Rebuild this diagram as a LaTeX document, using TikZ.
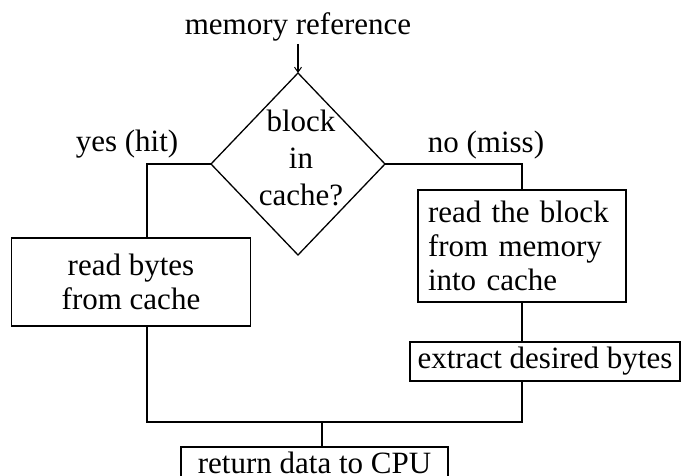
\documentclass[tikz,border=0pt]{standalone}
\usepackage{fontspec}
\setmainfont{Liberation Serif}
\usetikzlibrary{shapes.geometric,arrows.meta}

\begin{document}
\begin{tikzpicture}[x=1pt,y=-1pt,
  line width=1.3pt,
  font=\fontsize{31}{34}\selectfont,
  stepbox/.style={draw, rectangle, inner sep=0pt, outer sep=0pt, align=center},
  decision/.style={draw, diamond, inner sep=0pt, outer sep=0pt},
  label/.style={inner sep=0pt, anchor=base},
  flow/.style={line width=1.3pt}
]
\useasboundingbox (0,0) rectangle (686,476);

% entry point and decision
\node[inner sep=2pt] (mem) at (298,27) {memory reference};
\node[decision, minimum width=174pt, minimum height=182pt] (dec) at (298,164) {};
\node[inner sep=0pt, align=center, font=\fontsize{31}{37}\selectfont] (dectext) at (301,158) {block\\in\\cache?};

% branch labels
\node[label] (yes) at (127,152) {yes (hit)};
\node[label] (no) at (486,153) {no (miss)};

% process boxes
\node[stepbox, minimum width=239pt, minimum height=88pt] (lbox) at (131,282) {read bytes\\from cache};
\node[stepbox, minimum width=208pt, minimum height=112pt, text width=188pt, inner xsep=10pt, align=left] (rbox) at (522,246) {read the block\\from memory\\into cache};
\node[stepbox, minimum width=270pt, minimum height=39pt] (ebox) at (545,361.5) {extract desired bytes};
\node[stepbox, minimum width=267pt, minimum height=32pt] (ret) at (314.5,463) {return data to CPU};

\coordinate (join) at (322,422);

% connectors
\draw[flow, -{Straight Barb[length=5pt,width=7pt,line width=1pt]}] (mem.south) -- (dec.north);
\draw[flow] (dec.west) -| ([xshift=16pt]lbox.north);
\draw[flow] (dec.east) -| (rbox.north);
\draw[flow] (rbox.south) -- (rbox.south |- ebox.north);
\draw[flow] ([xshift=16pt]lbox.south) |- (join) -| (ebox.south -| rbox.south);
\draw[flow] (join) -- (join |- ret.north);
\end{tikzpicture}
\end{document}
